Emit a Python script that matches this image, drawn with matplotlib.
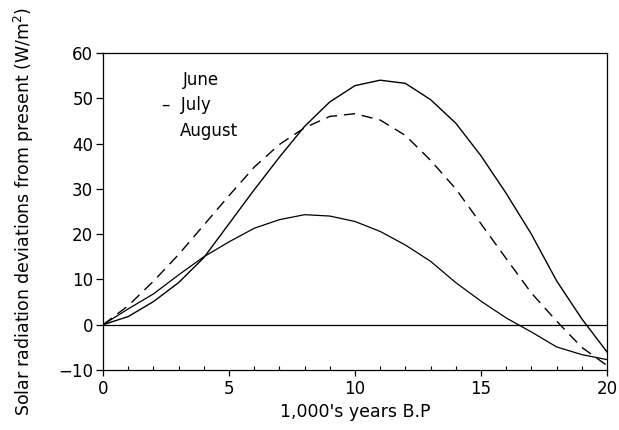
import matplotlib
matplotlib.use("Agg")
import matplotlib.pyplot as plt
from matplotlib.ticker import MultipleLocator

years = list(range(0, 21))
june = [0, 1.8, 5.1, 9.3, 14.8, 22.3, 29.8, 37.0, 43.8, 49.2, 52.8, 54.0, 53.3,
        49.7, 44.5, 37.3, 29.0, 20.0, 9.7, 1.3, -6.0]
july = [0, 4.2, 9.6, 15.5, 22.0, 28.5, 34.8, 39.8, 43.5, 46.0, 46.6, 45.2, 41.8,
        36.3, 30.0, 22.3, 14.6, 7.0, 0.8, -5.0, -9.0]
august = [0, 3.5, 6.8, 11.0, 15.0, 18.3, 21.3, 23.2, 24.3, 24.0, 22.8, 20.6, 17.6,
          14.0, 9.3, 5.2, 1.5, -1.6, -4.9, -6.6, -7.7]
legend_labels = ["June", "July", "August"]

plt.rcParams['font.family'] = ['DejaVu Sans']
fig = plt.figure(figsize=(6.19, 4.30), dpi=100)
ax = fig.add_axes([0.1664, 0.1395, 0.8142, 0.7372])

lw = 1.0
ax.plot(years, june, color='black', lw=lw)
ax.plot(years, july, color='black', lw=lw, linestyle=(0, (8, 5)))
ax.plot(years, august, color='black', lw=0.9)
ax.axhline(0, color='black', lw=0.9)

ax.set_xlim(0, 20)
ax.set_ylim(-10, 60)
ax.xaxis.set_major_locator(MultipleLocator(5))
ax.xaxis.set_minor_locator(MultipleLocator(1))
ax.yaxis.set_major_locator(MultipleLocator(10))
ax.tick_params(axis='x', which='major', direction='out', length=4, width=0.9, labelsize=12, pad=3)
ax.tick_params(axis='x', which='minor', direction='in', length=3, width=0.8)
ax.tick_params(axis='y', which='major', direction='out', length=5, width=0.9, labelsize=12, pad=2)
for s in ax.spines.values():
    s.set_linewidth(0.9)

ax.set_xlabel("1,000's years B.P", fontsize=12.5, labelpad=4)
ax.set_ylabel("Solar radiation deviations from present (W/m$^2$)", fontsize=12.5, labelpad=16)

ax.text(0.158, 0.915, legend_labels[0], transform=ax.transAxes, fontsize=12, va='center', ha='left')
ax.text(0.118, 0.835, "\u2013  " + legend_labels[1], transform=ax.transAxes, fontsize=12, va='center', ha='left')
ax.text(0.152, 0.755, legend_labels[2], transform=ax.transAxes, fontsize=12, va='center', ha='left')

fig.savefig("out.png", dpi=100)
